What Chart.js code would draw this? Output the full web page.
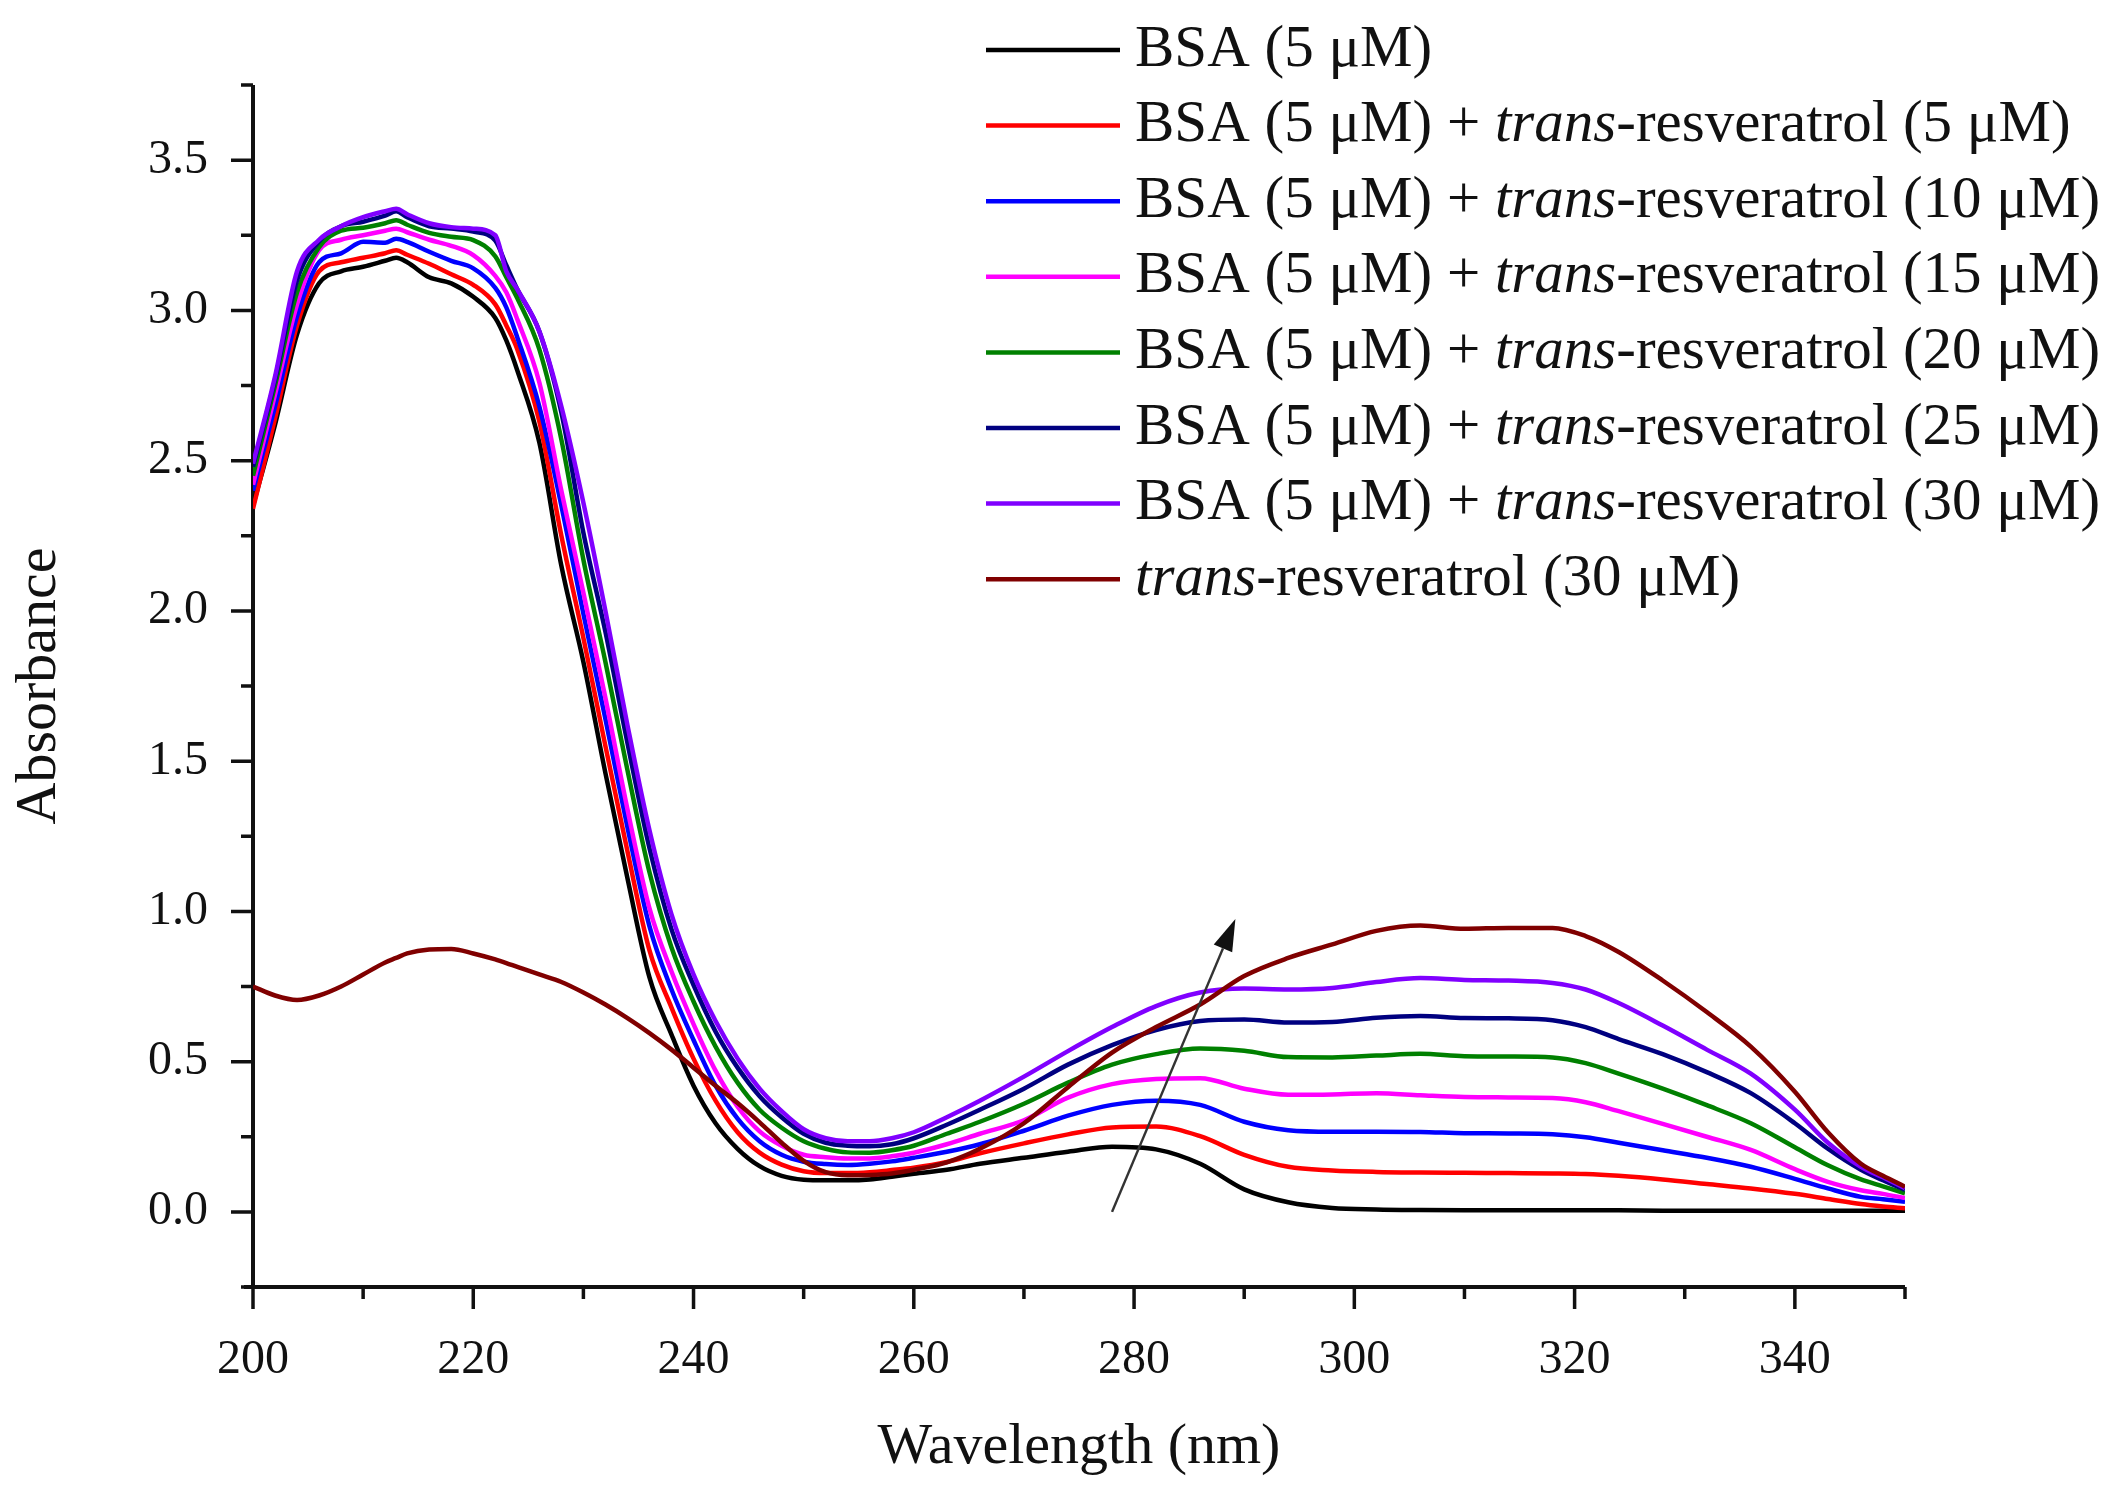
<!DOCTYPE html>
<html>
<head>
<meta charset="utf-8">
<title>BSA + trans-resveratrol UV-vis</title>
<script src="https://cdn.jsdelivr.net/npm/chart.js@4.4.1/dist/chart.umd.min.js"></script>
<style>
    html, body { margin: 0; padding: 0; background: #fff; }
    #wrap { width: 2122px; height: 1495px; }
</style>
</head>
<body>
<div id="wrap"><canvas id="spectra" width="2122" height="1495"></canvas></div>
<script>
// wavelength grid (nm) shared by every spectrum
const wavelength = [200, 202, 204, 206, 208, 210, 212, 213, 214, 216,
    218, 220, 222, 223, 224, 226, 228, 230, 232, 234,
    236, 238, 240, 242, 244, 246, 248, 250, 252, 254,
    256, 258, 260, 263, 266, 270, 274, 278, 282, 286,
    290, 294, 298, 302, 306, 310, 314, 318, 321, 324,
    328, 332, 336, 340, 343, 346, 348, 350];

const bsa = [2.35, 2.62, 2.92, 3.09, 3.13, 3.145, 3.165, 3.175, 3.16, 3.11,
    3.09, 3.045, 2.975, 2.90, 2.80, 2.56, 2.15, 1.83, 1.46, 1.11,
    0.78, 0.59, 0.42, 0.295, 0.21, 0.152, 0.12, 0.107, 0.105, 0.105,
    0.108, 0.117, 0.127, 0.14, 0.16, 0.18, 0.20, 0.217, 0.208, 0.16,
    0.075, 0.032, 0.013, 0.008, 0.006, 0.005, 0.005, 0.005, 0.005, 0.005,
    0.004, 0.004, 0.004, 0.004, 0.004, 0.004, 0.004, 0.004];

const res5 = [2.34, 2.64, 2.95, 3.13, 3.16, 3.175, 3.19, 3.20, 3.185, 3.155,
    3.12, 3.085, 3.02, 2.95, 2.87, 2.63, 2.25, 1.91, 1.55, 1.20,
    0.87, 0.68, 0.51, 0.37, 0.265, 0.197, 0.157, 0.135, 0.129, 0.129,
    0.132, 0.139, 0.147, 0.166, 0.195, 0.228, 0.258, 0.281, 0.284, 0.252,
    0.19, 0.15, 0.138, 0.133, 0.131, 0.13, 0.129, 0.128, 0.126, 0.12,
    0.108, 0.093, 0.078, 0.06, 0.043, 0.026, 0.018, 0.012];

const res10 = [2.40, 2.68, 2.98, 3.16, 3.19, 3.228, 3.225, 3.238, 3.228, 3.195,
    3.165, 3.14, 3.075, 3.01, 2.91, 2.68, 2.35, 1.99, 1.64, 1.28,
    0.95, 0.74, 0.572, 0.42, 0.31, 0.235, 0.19, 0.167, 0.159, 0.156,
    0.16, 0.168, 0.18, 0.20, 0.225, 0.27, 0.32, 0.356, 0.37, 0.356,
    0.30, 0.272, 0.267, 0.267, 0.266, 0.262, 0.261, 0.258, 0.248, 0.23,
    0.205, 0.18, 0.15, 0.11, 0.078, 0.05, 0.042, 0.034];

const res15 = [2.42, 2.72, 3.02, 3.20, 3.235, 3.25, 3.265, 3.272, 3.26, 3.235,
    3.215, 3.184, 3.115, 3.06, 2.97, 2.76, 2.40, 2.06, 1.71, 1.34,
    1.01, 0.80, 0.625, 0.47, 0.35, 0.268, 0.22, 0.19, 0.182, 0.178,
    0.178, 0.185, 0.197, 0.225, 0.26, 0.305, 0.38, 0.425, 0.442, 0.445,
    0.41, 0.39, 0.391, 0.395, 0.388, 0.382, 0.381, 0.379, 0.365, 0.335,
    0.293, 0.25, 0.206, 0.142, 0.10, 0.072, 0.06, 0.046];

const res20 = [2.45, 2.75, 3.06, 3.21, 3.265, 3.275, 3.29, 3.30, 3.285, 3.258,
    3.245, 3.234, 3.18, 3.11, 3.04, 2.87, 2.57, 2.17, 1.83, 1.47,
    1.13, 0.88, 0.70, 0.55, 0.43, 0.34, 0.28, 0.235, 0.21, 0.198,
    0.197, 0.205, 0.22, 0.26, 0.30, 0.36, 0.43, 0.49, 0.525, 0.544,
    0.536, 0.515, 0.514, 0.52, 0.526, 0.518, 0.517, 0.514, 0.495, 0.46,
    0.41, 0.355, 0.295, 0.215, 0.155, 0.108, 0.085, 0.062];

const res25 = [2.48, 2.77, 3.10, 3.23, 3.28, 3.295, 3.315, 3.33, 3.31, 3.28,
    3.272, 3.262, 3.232, 3.15, 3.07, 2.93, 2.66, 2.26, 1.93, 1.56,
    1.21, 0.94, 0.755, 0.60, 0.48, 0.385, 0.315, 0.26, 0.23, 0.22,
    0.218, 0.225, 0.245, 0.29, 0.34, 0.41, 0.49, 0.555, 0.605, 0.635,
    0.64, 0.63, 0.632, 0.646, 0.652, 0.645, 0.644, 0.638, 0.615, 0.575,
    0.525, 0.465, 0.395, 0.295, 0.21, 0.14, 0.105, 0.073];

const res30 = [2.49, 2.78, 3.13, 3.235, 3.28, 3.31, 3.33, 3.338, 3.32, 3.29,
    3.277, 3.272, 3.25, 3.13, 3.07, 2.93, 2.68, 2.36, 2.0, 1.62,
    1.27, 0.99, 0.79, 0.635, 0.51, 0.41, 0.335, 0.275, 0.245, 0.235,
    0.235, 0.245, 0.265, 0.315, 0.37, 0.45, 0.535, 0.615, 0.685, 0.73,
    0.743, 0.74, 0.745, 0.765, 0.778, 0.772, 0.77, 0.762, 0.74, 0.695,
    0.62, 0.54, 0.46, 0.34, 0.23, 0.15, 0.115, 0.079];

const resOnly = [0.75, 0.72, 0.705, 0.72, 0.75, 0.79, 0.83, 0.845, 0.86, 0.873,
    0.875, 0.86, 0.84, 0.828, 0.815, 0.79, 0.765, 0.73, 0.69, 0.645,
    0.595, 0.54, 0.48, 0.42, 0.362, 0.298, 0.23, 0.17, 0.132, 0.122,
    0.123, 0.128, 0.14, 0.165, 0.21, 0.295, 0.415, 0.53, 0.615, 0.69,
    0.785, 0.845, 0.89, 0.935, 0.953, 0.942, 0.945, 0.945, 0.918, 0.865,
    0.77, 0.665, 0.55, 0.40, 0.265, 0.16, 0.12, 0.084];

const seriesNames = ['BSA (5 μM)',
    'BSA (5 μM) + trans-resveratrol (5 μM)',
    'BSA (5 μM) + trans-resveratrol (10 μM)',
    'BSA (5 μM) + trans-resveratrol (15 μM)',
    'BSA (5 μM) + trans-resveratrol (20 μM)',
    'BSA (5 μM) + trans-resveratrol (25 μM)',
    'BSA (5 μM) + trans-resveratrol (30 μM)',
    'trans-resveratrol (30 μM)'];
const seriesColors = ['#000000', '#ff0000', '#0000ff', '#ff00ff', '#008000', '#000080', '#8000ff', '#800000'];
const seriesValues = [bsa, res5, res10, res15, res20, res25, res30, resOnly];

const xMajorTicks = [200, 220, 240, 260, 280, 300, 320, 340];
const xMinorTicks = [210, 230, 250, 270, 290, 310, 330, 350];
const yMajorTicks = [0, 0.5, 1.0, 1.5, 2.0, 2.5, 3.0, 3.5];
const yMinorTicks = [-0.25, 0.25, 0.75, 1.25, 1.75, 2.25, 2.75, 3.25, 3.75];

// arrow showing the trend with rising resveratrol (data coords)
const arrowFrom = [278, 0.0];
const arrowTo = [289.2, 0.975];

const serif = '"Liberation Serif", "Times New Roman", serif';
const ink = '#111';

const datasets = seriesValues.map((vals, i) => ({
    label: seriesNames[i],
    data: wavelength.map((w, k) => ({ x: w, y: vals[k] })),
    borderColor: seriesColors[i],
    borderWidth: 4.5,
    pointRadius: 0,
    cubicInterpolationMode: 'monotone',
    fill: false,
    order: seriesValues.length - i
}));

// axis lines + major/minor tick marks (outward, like Origin)
const axesPlugin = {
    id: 'axesPlugin',
    beforeDatasetsDraw(chart) {
        const ctx = chart.ctx;
        const a = chart.chartArea;
        const xs = chart.scales.x, ys = chart.scales.y;
        ctx.save();
        ctx.strokeStyle = ink;
        ctx.lineWidth = 4;
        ctx.beginPath();
        ctx.moveTo(a.left, a.top);
        ctx.lineTo(a.left, a.bottom + 2);
        ctx.moveTo(a.left - 9, a.bottom);
        ctx.lineTo(a.right, a.bottom);
        ctx.stroke();

        ctx.lineWidth = 3.5;
        ctx.beginPath();
        yMajorTicks.forEach(v => {
            const y = ys.getPixelForValue(v);
            ctx.moveTo(a.left, y); ctx.lineTo(a.left - 22, y);
        });
        yMinorTicks.forEach(v => {
            const y = ys.getPixelForValue(v);
            ctx.moveTo(a.left, y); ctx.lineTo(a.left - 12, y);
        });
        xMajorTicks.forEach(v => {
            const x = xs.getPixelForValue(v);
            ctx.moveTo(x, a.bottom); ctx.lineTo(x, a.bottom + 22);
        });
        xMinorTicks.forEach(v => {
            const x = xs.getPixelForValue(v);
            ctx.moveTo(x, a.bottom); ctx.lineTo(x, a.bottom + 12);
        });
        ctx.stroke();
        ctx.restore();
    }
};

// arrow + legend with the italic "trans"
const overlayPlugin = {
    id: 'overlayPlugin',
    afterDatasetsDraw(chart) {
        const ctx = chart.ctx;
        const xs = chart.scales.x, ys = chart.scales.y;
        ctx.save();

        const x0 = xs.getPixelForValue(arrowFrom[0]), y0 = ys.getPixelForValue(arrowFrom[1]);
        const x1 = xs.getPixelForValue(arrowTo[0]), y1 = ys.getPixelForValue(arrowTo[1]);
        const ang = Math.atan2(y1 - y0, x1 - x0);
        const headLen = 32, headHalf = 10;
        const bx = x1 - headLen * Math.cos(ang), by = y1 - headLen * Math.sin(ang);
        ctx.strokeStyle = '#333';
        ctx.fillStyle = '#111';
        ctx.lineWidth = 2.5;
        ctx.beginPath();
        ctx.moveTo(x0, y0);
        ctx.lineTo(bx, by);
        ctx.stroke();
        ctx.beginPath();
        ctx.moveTo(x1, y1);
        ctx.lineTo(bx + headHalf * Math.sin(ang), by - headHalf * Math.cos(ang));
        ctx.lineTo(bx - headHalf * Math.sin(ang), by + headHalf * Math.cos(ang));
        ctx.closePath();
        ctx.fill();

        const lineX0 = 986, lineX1 = 1120, textX = 1135;
        const rowTop = 50, rowGap = 75.6;
        ctx.textBaseline = 'middle';
        ctx.textAlign = 'left';
        seriesNames.forEach((name, i) => {
            const y = rowTop + i * rowGap;
            ctx.strokeStyle = seriesColors[i];
            ctx.lineWidth = 4.5;
            ctx.beginPath();
            ctx.moveTo(lineX0, y);
            ctx.lineTo(lineX1, y);
            ctx.stroke();

            let x = textX;
            ctx.fillStyle = ink;
            name.split(/(trans)(?=-)/).forEach(part => {
                if (!part) return;
                ctx.font = (part === 'trans' ? 'italic ' : '') + '59px ' + serif;
                ctx.fillText(part, x, y);
                x += ctx.measureText(part).width;
            });
        });
        ctx.restore();
    }
};

new Chart(document.getElementById('spectra'), {
    type: 'line',
    data: { datasets: datasets },
    plugins: [axesPlugin, overlayPlugin],
    options: {
        responsive: false,
        animation: false,
        devicePixelRatio: 1,
        layout: { padding: { top: 85, right: 217, left: 0, bottom: 0 } },
        plugins: {
            legend: { display: false },
            tooltip: { enabled: false }
        },
        scales: {
            x: {
                type: 'linear',
                min: 200,
                max: 350,
                afterBuildTicks: s => { s.ticks = xMajorTicks.map(v => ({ value: v })); },
                afterFit: s => { s.height = 208; },
                grid: { display: false },
                border: { display: false },
                ticks: {
                    padding: 37,
                    autoSkip: false,
                    maxRotation: 0,
                    color: ink,
                    font: { family: serif, size: 48 },
                    callback: v => String(v)
                },
                title: {
                    display: true,
                    text: 'Wavelength (nm)',
                    color: ink,
                    font: { family: serif, size: 58 },
                    padding: { top: 0, bottom: 12 }
                }
            },
            y: {
                type: 'linear',
                min: -0.25,
                max: 3.75,
                afterBuildTicks: s => { s.ticks = yMajorTicks.map(v => ({ value: v })); },
                afterFit: s => { s.width = 253; },
                grid: { display: false },
                border: { display: false },
                ticks: {
                    padding: 37,
                    color: ink,
                    font: { family: serif, size: 48 },
                    callback: v => Number(v).toFixed(1)
                },
                title: {
                    display: true,
                    text: 'Absorbance',
                    color: ink,
                    font: { family: serif, size: 58 },
                    padding: { top: 5, bottom: 0 }
                }
            }
        }
    }
});
</script>
</body>
</html>
